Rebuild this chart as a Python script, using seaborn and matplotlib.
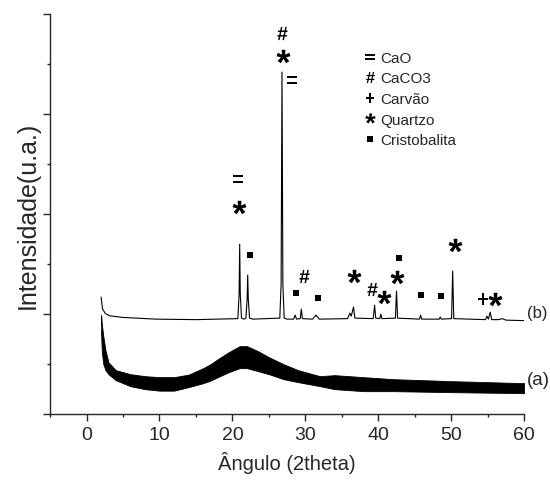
import matplotlib
matplotlib.use("Agg")
import matplotlib.pyplot as plt
import seaborn as sns
from matplotlib.ticker import MultipleLocator
from matplotlib.lines import Line2D
from matplotlib.textpath import TextPath
from matplotlib.font_manager import FontProperties
from matplotlib.path import Path

sns.set_style("ticks")
plt.rcParams["font.family"] = ["Liberation Sans", "DejaVu Sans"]

# trace (b): sample with sharp crystalline peaks
xb = [2.0, 2.2, 2.6, 3.2, 5.0, 9.5, 15.0, 20.75, 20.92, 21.0, 21.08, 21.25,
      21.6, 21.85, 22.02, 22.1, 22.18, 22.35, 22.8, 26.5, 26.68, 26.8, 26.92,
      27.1, 27.5, 28.4, 28.6, 28.8, 29.3, 29.45, 29.6, 31.0, 31.45, 31.9,
      35.8, 36.1, 36.3, 36.6, 36.8, 39.3, 39.5, 39.65, 40.2, 40.35, 40.5,
      42.35, 42.5, 42.65, 45.65, 45.8, 45.95, 48.35, 48.5, 48.65, 50.05,
      50.2, 50.35, 54.7, 54.9, 55.1, 55.35, 55.55, 56.5, 57.0, 57.5, 60.0]
yb = [117, 105, 100.5, 98.3, 96.7, 95, 94.5, 95.5, 120, 170, 120, 96,
      95, 96, 115, 139, 115, 96, 95, 96, 130, 342, 130,
      96, 95, 95, 99, 95, 95.5, 105, 95.5, 95, 99, 95,
      95.5, 101, 98, 107, 96, 95.5, 109, 96, 95.5, 100, 95.5,
      96, 123, 96, 95, 99, 95, 95, 97, 95, 95.5,
      143, 95.5, 94.5, 98, 95, 102, 94.5, 94.5, 95.5, 94, 93.5]

# trace (a): amorphous, noisy band given by its upper and lower edges
xa = [2.0, 2.1, 2.3, 2.6, 3.0, 4.0, 6.0, 8.0, 10, 12, 14, 16, 17, 18, 19.5,
      21, 22, 23.5, 25, 27, 29, 32, 34, 38, 42, 46, 50, 55, 60]
ya_top = [99, 90, 78, 64, 52, 44, 40, 38, 37, 37, 39.5, 46, 50, 55, 62,
          68, 68, 63, 57, 50, 44, 38, 39, 37, 35, 34, 33, 32, 31]
ya_bot = [80, 62, 50, 44, 40, 34, 28, 25, 23.5, 23.5, 27, 31, 33.5, 37, 42,
          46, 46, 43, 40, 35, 32, 28, 25, 23, 23, 22.5, 22, 21.5, 21]

# phase markers placed over the peaks
sym_keys = ["=", "#", "+", "*", "s"]
sym_names = ["CaO", "CaCO3", "Carvão", "Quartzo", "Cristobalita"]
marks = {
    "#": ([26.82, 29.8, 39.14], [381, 137.7, 125]),
    "*": ([26.9, 20.85, 36.72, 40.74, 42.52, 50.48, 56.0],
          [358, 206.7, 137.7, 116.7, 136.7, 169, 115]),
    "=": ([28.16, 20.78], [334, 235]),
    "+": ([54.36], [115]),
    "s": ([22.36, 28.67, 31.8, 42.87, 45.91, 48.56],
          [159.5, 120.7, 115.7, 155.7, 118.7, 117.7]),
}


def glyph(ch):
    """Centred filled path of a Liberation Sans glyph, usable as a marker."""
    p = TextPath((0, 0), ch, size=10,
                 prop=FontProperties(family="Liberation Sans", weight="bold"))
    v = p.vertices.copy()
    keep = p.codes != Path.CLOSEPOLY
    c = (v[keep].min(0) + v[keep].max(0)) / 2
    v[~keep] = c
    return Path(v - c, p.codes)


mk = {k: (glyph(k) if k != "s" else "s") for k in sym_keys}
mk_size = {"#": 9.5, "*": 10, "=": 7.5, "+": 8, "s": 5}
leg_size = {"#": 8, "*": 7.5, "=": 6.5, "+": 6.5, "s": 3.8}

fig, ax = plt.subplots(figsize=(5.5, 4.85), dpi=100)
fig.subplots_adjust(left=0.091, right=0.953, bottom=0.144, top=0.969)

ax.fill_between(xa, ya_bot, ya_top, color="black", lw=0.6)
sns.lineplot(x=xb, y=yb, sort=False, estimator=None, color="black",
             lw=0.8, ax=ax)

for key, (mx, my) in marks.items():
    ax.plot(mx, my, ls="none", marker=mk[key], ms=mk_size[key],
            color="black", mew=0)

ax.text(60.4, 102, "(b)", fontsize=12, va="center", ha="left")
ax.text(60.4, 35, "(a)", fontsize=13.5, va="center", ha="left")

handles = [Line2D([], [], ls="none", marker=mk[k], color="black",
                  ms=leg_size[k], mew=0) for k in sym_keys]
ax.legend(handles, sym_names, frameon=False, fontsize=11,
          loc="upper left", bbox_to_anchor=(0.649, 0.927),
          handlelength=0.6, handletextpad=0.35, labelspacing=0.43,
          borderpad=0)

ax.set_xlim(-5, 60)
ax.set_ylim(0, 400)
ax.set_xticks(range(0, 61, 10))
ax.xaxis.set_minor_locator(MultipleLocator(5))
ax.set_yticks([0, 100, 200, 300, 400])
ax.set_yticklabels([])
ax.yaxis.set_minor_locator(MultipleLocator(50))
ax.tick_params(which="major", direction="out", length=5, width=1,
               labelsize=14)
ax.tick_params(which="minor", direction="out", length=2.5, width=1)
ax.set_xlabel("Ângulo (2theta)", fontsize=14.5, labelpad=6)
ax.set_ylabel("Intensidade(u.a.)", fontsize=18)
ax.yaxis.set_label_coords(-0.022, 0.5)
sns.despine(ax=ax)
for s in ["left", "bottom"]:
    ax.spines[s].set_linewidth(1)

fig.savefig("out.png", dpi=100)
